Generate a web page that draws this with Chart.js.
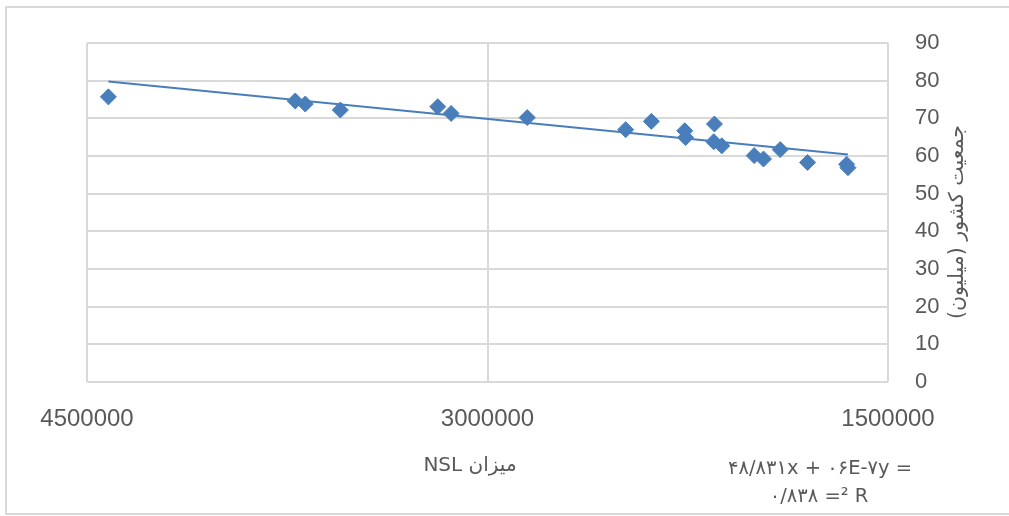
<!DOCTYPE html>
<html>
<head>
<meta charset="utf-8">
<script src="https://cdn.jsdelivr.net/npm/chart.js@4"></script>
<style>
  html, body { margin: 0; padding: 0; background: #fff; }
  #wrap { width: 1009px; height: 516px; }
</style>
</head>
<body>
<div id="wrap"><canvas id="chart1" width="1009" height="516"></canvas></div>
<script>
// NSL amount (x) and country population in millions (y)
const nslValues = [4420000, 3720000, 3682500, 3551250, 3186250, 3136250, 2851250, 2482500, 2386250, 2261250,
                   2258000, 2150000, 2152500, 2122500, 2001250, 1966250, 1903750, 1801250, 1655000, 1650000];
const populationValues = [75.7, 74.6, 73.8, 72.2, 73.1, 71.3, 70.2, 67.0, 69.2, 66.7,
                          64.9, 68.5, 63.8, 62.7, 60.1, 59.2, 61.7, 58.3, 57.8, 56.9];
const xTicks = [1500000, 3000000, 4500000];
const yTicks = [0, 10, 20, 30, 40, 50, 60, 70, 80, 90];

// trendline from the label: y = 7E-06x + 48.831
const trendSlope = 7e-6;
const trendIntercept = 48.831;

const xTitle = 'میزان NSL';
const yTitle = 'جمعیت کشور (میلیون)';
const eqLine1 = '۴۸/۸۳۱x + ۰۶E-۷y =';
const eqLine2 = '۰/۸۳۸ =² R';

const blue = '#4a7ebb';
const textColor = '#595959';
const gridColor = '#d9d9d9';

const points = nslValues.map((x, i) => ({ x: x, y: populationValues[i] }));
const xMin = Math.min(...nslValues);
const xMax = Math.max(...nslValues);
const trend = [xMax, xMin].map(x => ({ x: x, y: trendSlope * x + trendIntercept }));

// extra texts and outer frame
const textPlugin = {
  id: 'texts',
  afterDraw(chart) {
    const c = chart.ctx;
    c.save();
    c.strokeStyle = gridColor;
    c.lineWidth = 2;
    c.beginPath();
    c.moveTo(1009, 7); c.lineTo(6, 7); c.lineTo(6, 514); c.lineTo(1009, 514);
    c.stroke();

    c.fillStyle = textColor;
    c.textAlign = 'center';
    c.textBaseline = 'middle';
    c.direction = 'rtl';
    c.font = '20px "DejaVu Sans", "Liberation Sans", sans-serif';
    c.fillText(xTitle, 470, 466);

    c.direction = 'ltr';
    c.font = '19.5px "DejaVu Sans", "Liberation Sans", sans-serif';
    c.fillText(eqLine1, 820, 469);
    c.fillText(eqLine2, 819, 497);

    c.direction = 'rtl';
    c.translate(958, 222);
    c.rotate(-Math.PI / 2);
    c.font = '20.5px "DejaVu Sans", "Liberation Sans", sans-serif';
    c.fillText(yTitle, 0, 0);
    c.restore();
  }
};

const ctx = document.getElementById('chart1').getContext('2d');
const myChart = new Chart(ctx, {
  type: 'scatter',
  data: {
    datasets: [{
      type: 'line',
      data: trend,
      borderColor: blue,
      borderWidth: 2,
      pointRadius: 0,
      fill: false
    }, {
      data: points,
      backgroundColor: blue,
      borderColor: blue,
      pointStyle: 'rectRot',
      pointRadius: 8,
      pointHoverRadius: 8
    }]
  },
  options: {
    responsive: false,
    animation: false,
    layout: { padding: { left: 87, top: 43, right: 0, bottom: 74 } },
    plugins: { legend: { display: false }, tooltip: { enabled: false } },
    scales: {
      x: {
        type: 'linear',
        reverse: true,
        min: 1500000,
        max: 4500000,
        afterBuildTicks: axis => { axis.ticks = xTicks.map(v => ({ value: v })); },
        afterFit: axis => { axis.height = 60; },
        ticks: {
          color: textColor,
          font: { family: '"Liberation Sans", sans-serif', size: 24 },
          padding: 23,
          maxRotation: 0,
          callback: v => String(v)
        },
        grid: { color: gridColor, lineWidth: 2, drawTicks: false },
        border: { display: false }
      },
      y: {
        position: 'right',
        min: 0,
        max: 90,
        afterBuildTicks: axis => { axis.ticks = yTicks.map(v => ({ value: v })); },
        afterFit: axis => { axis.width = 121; },
        ticks: {
          color: textColor,
          font: { family: '"Liberation Sans", sans-serif', size: 22 },
          padding: 27
        },
        grid: { color: gridColor, lineWidth: 2, drawTicks: false },
        border: { display: false }
      }
    }
  },
  plugins: [textPlugin]
});
</script>
</body>
</html>
